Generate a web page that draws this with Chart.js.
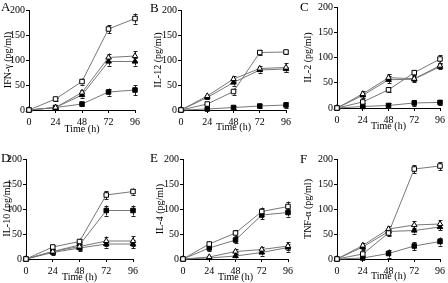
<!DOCTYPE html>
<html>
<head>
<meta charset="utf-8">
<script src="https://cdn.jsdelivr.net/npm/chart.js@4.4.0/dist/chart.umd.min.js"></script>
<style>
    body { margin: 0; background: #fff; width: 448px; height: 283px; overflow: hidden; position: relative; font-family: 'Liberation Serif', serif; }
    .panel { position: absolute; }
    .tag { position: absolute; font-size: 13px; line-height: 13px; color: #000; z-index: 2; }
</style>
</head>
<body>
<script>
// time points (h)
const hours = [0, 24, 48, 72, 96];

// series order in every panel: open square, open triangle, filled triangle, filled square
const ifnValues = [
    [0, 22, 57, 162, 183],
    [0, 5, 35, 105, 108],
    [0, 5, 30, 97, 97],
    [0, 5, 12, 36, 40]
];
const ifnErrors = [
    [0, 3, 6, 8, 10],
    [0, 2, 5, 8, 10],
    [0, 2, 5, 8, 8],
    [0, 2, 4, 7, 10]
];

const il12Values = [
    [0, 12, 37, 115, 116],
    [0, 28, 62, 83, 85],
    [0, 25, 55, 80, 82],
    [0, 2, 5, 8, 10]
];
const il12Errors = [
    [0, 3, 6, 5, 4],
    [0, 3, 6, 5, 8],
    [0, 3, 6, 5, 5],
    [0, 2, 3, 4, 6]
];

const il2Values = [
    [0, 12, 36, 70, 97],
    [0, 28, 60, 58, 84],
    [0, 25, 56, 57, 82],
    [0, 3, 5, 10, 11]
];
const il2Errors = [
    [0, 3, 5, 5, 7],
    [0, 5, 7, 5, 5],
    [0, 5, 7, 5, 5],
    [0, 2, 5, 6, 5]
];

const il10Values = [
    [0, 24, 35, 128, 135],
    [0, 15, 25, 36, 36],
    [0, 13, 22, 30, 30],
    [0, 15, 28, 97, 97]
];
const il10Errors = [
    [0, 5, 6, 8, 6],
    [0, 5, 6, 9, 10],
    [0, 4, 5, 7, 8],
    [0, 5, 6, 10, 10]
];

const il4Values = [
    [0, 30, 52, 95, 105],
    [0, 4, 15, 19, 26],
    [0, 2, 6, 13, 23],
    [0, 22, 38, 88, 93]
];
const il4Errors = [
    [0, 5, 6, 8, 10],
    [0, 3, 5, 6, 8],
    [0, 3, 5, 6, 8],
    [0, 5, 6, 8, 8]
];

const tnfValues = [
    [0, 10, 52, 180, 186],
    [0, 27, 60, 68, 70],
    [0, 24, 55, 57, 64],
    [0, 2, 11, 26, 35]
];
const tnfErrors = [
    [0, 4, 5, 8, 8],
    [0, 6, 6, 8, 8],
    [0, 5, 6, 6, 6],
    [0, 3, 8, 8, 8]
];

const yTicks = [0, 50, 100, 150, 200];
const xTitle = 'Time (h)';
const panelLetters = ['A', 'B', 'C', 'D', 'E', 'F'];

// marker look for the four groups
const markers = [
    { style: 'rect', fill: '#fff' },
    { style: 'triangle', fill: '#fff' },
    { style: 'triangle', fill: '#000' },
    { style: 'rect', fill: '#000' }
];

// canvas box + plot area (local px: left, right, top, bottom) + title offsets
const panels = [
    { title: 'IFN-γ (pg/ml)', values: ifnValues, errors: ifnErrors, x: 0, y: 0, w: 148, h: 140, area: [29, 135, 10, 110], yPad: 2, xPad: 5, tag: [1, 0] },
    { title: 'IL-12 (pg/ml)', values: il12Values, errors: il12Errors, x: 148, y: 0, w: 150, h: 140, area: [33, 138, 10, 110], yPad: 4, xPad: 7, tag: [2, 1] },
    { title: 'IL-2 (pg/ml)', values: il2Values, errors: il2Errors, x: 298, y: 0, w: 150, h: 140, area: [39, 144, 7, 108], yPad: 4, xPad: 8, tag: [2, 0] },
    { title: 'IL-10 (pg/ml)', values: il10Values, errors: il10Errors, x: 0, y: 140, w: 148, h: 143, area: [26, 133, 19, 119], yPad: 1, xPad: 0, tag: [1, 11] },
    { title: 'IL-4 (pg/ml)', values: il4Values, errors: il4Errors, x: 148, y: 140, w: 150, h: 143, area: [35, 140, 19, 119], yPad: 6, xPad: 0, tag: [2, 11] },
    { title: 'TNF-α (pg/ml)', values: tnfValues, errors: tnfErrors, x: 298, y: 140, w: 150, h: 143, area: [39, 145, 19, 119], yPad: 4, xPad: 1, tag: [2, 12] }
];

// draws vertical error bars under the markers
var errorBars = {
    id: 'errorBars',
    beforeDatasetsDraw: function (chart) {
        var ctx = chart.ctx;
        var yScale = chart.scales.y;
        ctx.save();
        ctx.strokeStyle = '#222';
        ctx.lineWidth = 1;
        chart.data.datasets.forEach(function (ds, i) {
            var meta = chart.getDatasetMeta(i);
            meta.data.forEach(function (pt, j) {
                var e = ds.errors[j];
                if (!e) return;
                var v = ds.data[j].y;
                var x = Math.round(pt.x) + 0.5;
                var y1 = yScale.getPixelForValue(v + e);
                var y2 = yScale.getPixelForValue(v - e);
                ctx.beginPath();
                ctx.moveTo(x, y1); ctx.lineTo(x, y2);
                ctx.moveTo(x - 2, Math.round(y1) + 0.5); ctx.lineTo(x + 2, Math.round(y1) + 0.5);
                ctx.moveTo(x - 2, Math.round(y2) + 0.5); ctx.lineTo(x + 2, Math.round(y2) + 0.5);
                ctx.stroke();
            });
        });
        ctx.restore();
    }
};

function serif() { return { family: "'Liberation Serif', serif", size: 10 }; }

panels.forEach(function (p, k) {
    var wrap = document.createElement('div');
    wrap.className = 'panel';
    wrap.style.left = p.x + 'px';
    wrap.style.top = p.y + 'px';
    wrap.style.width = p.w + 'px';
    wrap.style.height = p.h + 'px';
    var canvas = document.createElement('canvas');
    canvas.width = p.w;
    canvas.height = p.h;
    wrap.appendChild(canvas);
    var tag = document.createElement('div');
    tag.className = 'tag';
    tag.textContent = panelLetters[k];
    tag.style.left = p.tag[0] + 'px';
    tag.style.top = p.tag[1] + 'px';
    wrap.appendChild(tag);
    document.body.appendChild(wrap);

    var datasets = p.values.map(function (vals, i) {
        return {
            data: vals.map(function (v, j) { return { x: hours[j], y: v }; }),
            errors: p.errors[i],
            borderColor: '#777',
            borderWidth: 1,
            pointStyle: markers[i].style,
            pointRadius: 3.2,
            pointBackgroundColor: markers[i].fill,
            pointBorderColor: '#000',
            pointBorderWidth: 1,
            clip: false
        };
    });

    new Chart(canvas.getContext('2d'), {
        type: 'line',
        data: { datasets: datasets },
        plugins: [errorBars],
        options: {
            responsive: false,
            animation: false,
            events: [],
            layout: { padding: { left: 0, top: p.area[2], right: p.w - p.area[1], bottom: 0 } },
            plugins: { legend: { display: false }, tooltip: { enabled: false } },
            scales: {
                x: {
                    type: 'linear',
                    min: 0,
                    max: 96,
                    afterFit: function (scale) { scale.height = p.h - p.area[3]; },
                    afterBuildTicks: function (scale) { scale.ticks = hours.map(function (h) { return { value: h }; }); },
                    border: { display: true, color: '#000', width: 1 },
                    grid: { drawOnChartArea: false, drawTicks: true, tickLength: 3, tickColor: '#000' },
                    ticks: { color: '#000', font: serif(), padding: 3, maxRotation: 0, autoSkip: false },
                    title: { display: true, text: xTitle, color: '#000', font: serif(), padding: { top: 0, bottom: p.xPad } }
                },
                y: {
                    type: 'linear',
                    min: 0,
                    max: 200,
                    afterFit: function (scale) { scale.width = p.area[0]; },
                    afterBuildTicks: function (scale) { scale.ticks = yTicks.map(function (v) { return { value: v }; }); },
                    border: { display: true, color: '#000', width: 1 },
                    grid: { drawOnChartArea: false, drawTicks: true, tickLength: 3, tickColor: '#000' },
                    ticks: { color: '#000', font: serif(), padding: 1, autoSkip: false },
                    title: { display: true, text: p.title, color: '#000', font: serif(), padding: { top: p.yPad, bottom: 0 } }
                }
            }
        }
    });
});
</script>
</body>
</html>
